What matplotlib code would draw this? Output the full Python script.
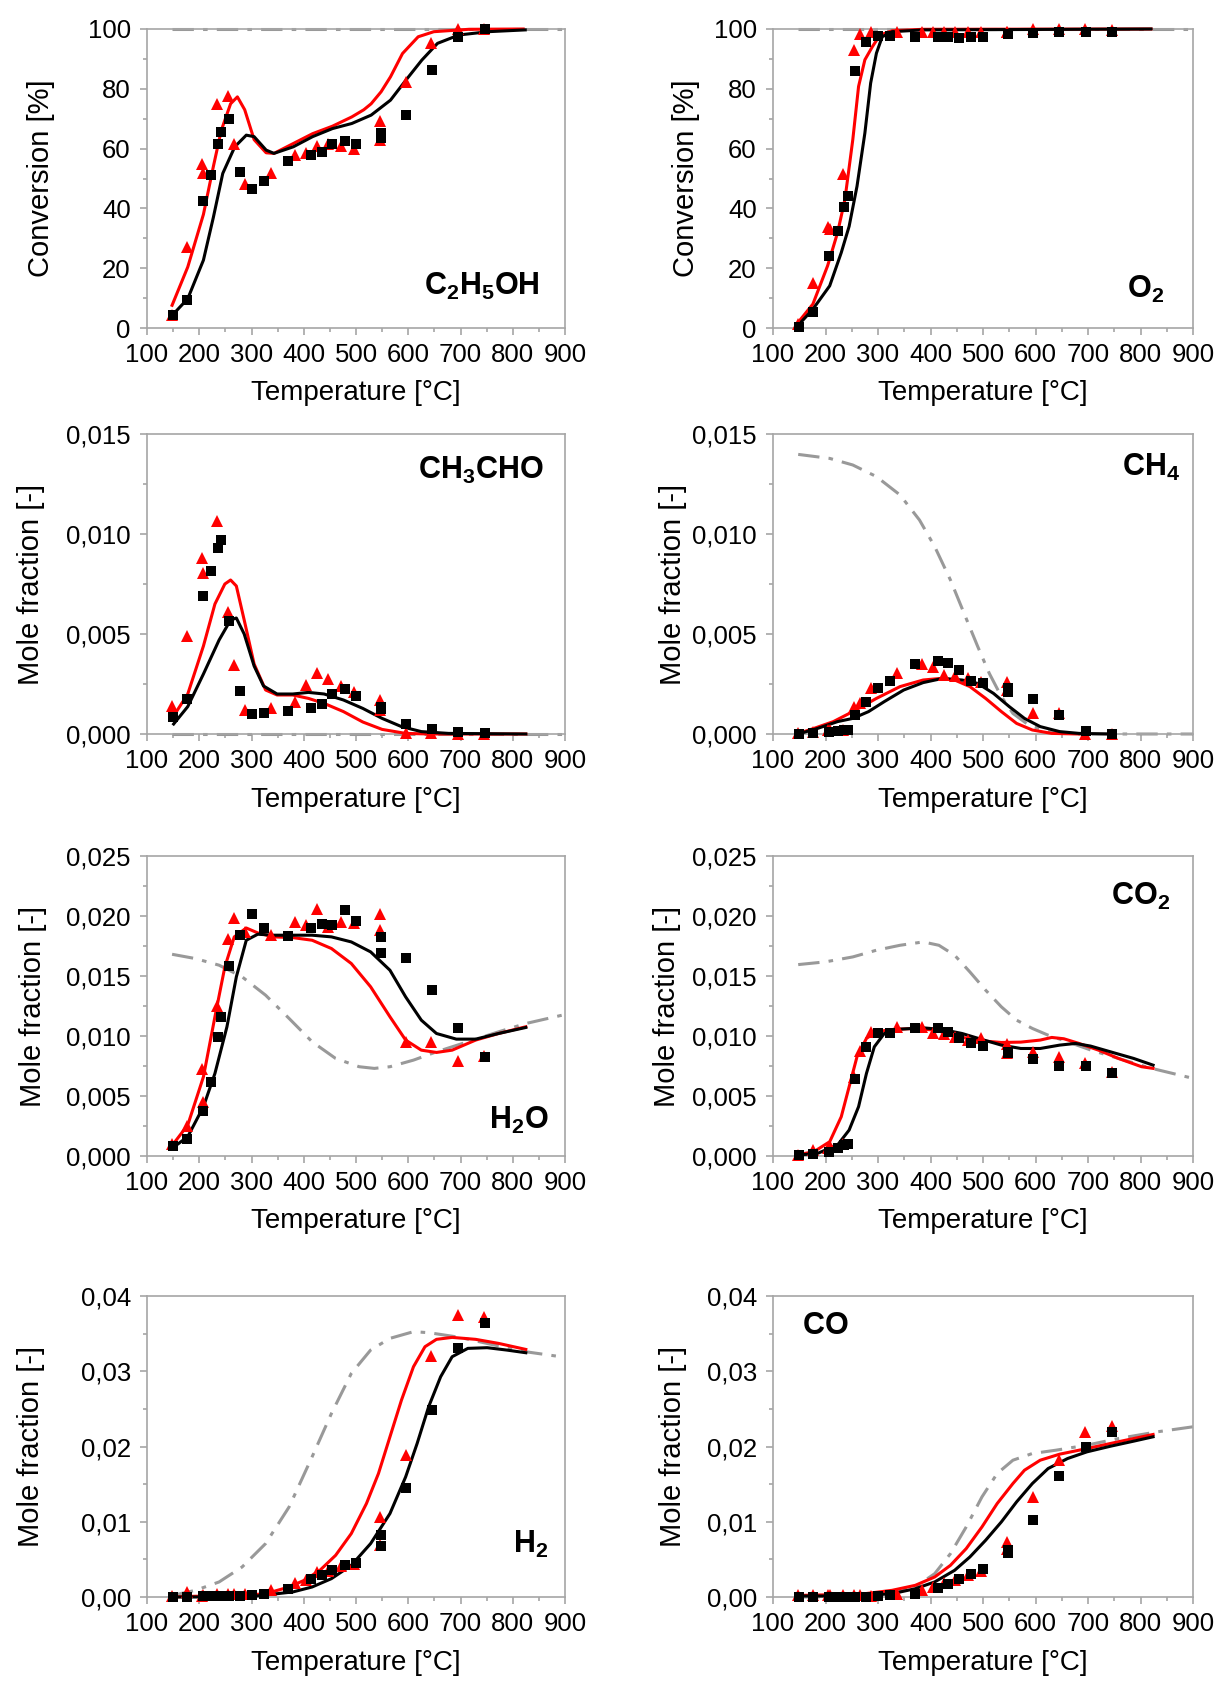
import matplotlib
matplotlib.use('Agg')
import matplotlib.pyplot as plt
from matplotlib.ticker import MultipleLocator, FuncFormatter

plt.rcParams['font.family'] = ['Liberation Sans', 'DejaVu Sans']
plt.rcParams['mathtext.fontset'] = 'custom'
plt.rcParams['mathtext.rm'] = 'Liberation Sans'
plt.rcParams['mathtext.bf'] = 'Liberation Sans:bold'

# Measurement temperatures (squares / triangles)
T_SQ = [150, 176, 207, 223, 236, 242, 257, 278, 300, 323, 370, 414, 434, 454, 478, 500, 547, 547, 596, 645, 696, 746]
T_TRI = [148, 177, 205, 208, 234, 255, 266, 287, 337, 383, 404, 426, 447, 471, 497, 546, 546, 595, 644, 695, 745]

# ---- C2H5OH conversion [%]
etoh_sq = [4.2, 9.3, 42.4, 51.1, 61.7, 65.6, 69.8, 52.2, 46.5, 49.1, 55.8, 57.9, 58.9, 61.4, 62.5, 61.7, 63.7, 65.1, 71.2, 86.3, 97.4, 100]
etoh_tri = [4.2, 27.1, 54.7, 51.7, 74.8, 77.6, 61.7, 48.0, 51.7, 57.8, 58.6, 60.8, 61.5, 60.8, 60.0, 62.8, 69.2, 82.4, 95.4, 100, 100]
etoh_red_t = [148, 178, 208, 227, 242, 260, 273, 287, 305, 328, 343, 380, 417, 455, 492, 515, 529, 548, 566, 589, 619, 649, 716, 820]
etoh_red_y = [7.6, 20.4, 38, 54, 66, 75, 77.3, 73, 63, 58.6, 58.4, 61.7, 65, 67.5, 70.6, 73, 75, 79, 84, 91.8, 97.4, 99.1, 99.9, 100]
etoh_blk_t = [148, 178, 208, 227, 245, 268, 290, 305, 328, 343, 380, 417, 455, 492, 529, 566, 596, 626, 656, 697, 753, 824]
etoh_blk_y = [4.2, 9.8, 22.7, 37, 51.7, 60.6, 64.5, 64, 59.5, 58.4, 60.6, 64, 66.7, 68.4, 71.2, 76.2, 83, 89.6, 95.2, 98, 99.1, 99.7]
etoh_eq_t = [148, 900]
etoh_eq_y = [100, 100]

# ---- O2 conversion [%]
o2_sq = [0.4, 5.2, 24.1, 32.4, 40.4, 44.1, 86.0, 95.8, 97.7, 97.7, 97.2, 97.4, 97.4, 96.9, 97.4, 97.4, 98.2, 98.2, 98.6, 98.9, 98.9, 98.9]
o2_tri = [1.3, 15.0, 33.8, 33.0, 51.6, 93.0, 98.2, 98.9, 99.0, 99.0, 99.0, 99.0, 99.0, 99.0, 99.0, 99.0, 99.0, 100, 100, 100, 99.5]
o2_red_t = [148, 176, 204, 223, 237, 252, 263, 275, 289, 304, 327, 386, 820]
o2_red_y = [1.9, 8, 20.8, 31.9, 43, 63, 80.8, 89.7, 94, 98, 99.4, 99.9, 100]
o2_blk_t = [150, 176, 208, 230, 245, 260, 275, 286, 297, 308, 327, 386, 820]
o2_blk_y = [1.3, 6.3, 14.1, 25.2, 34, 47.4, 65.2, 81.9, 91.9, 97.4, 99.1, 99.7, 100]
o2_eq_t = [148, 900]
o2_eq_y = [100, 100]

# ---- CH3CHO mole fraction
ch3cho_sq = [0.00087, 0.00173, 0.0069, 0.00817, 0.00928, 0.0097, 0.00565, 0.00217, 0.0010, 0.00107, 0.00117, 0.00128,
             0.00148, 0.0020, 0.00223, 0.00192, 0.00127, 0.00137, 0.0005, 0.00023, 0.00012, 0.00007]
ch3cho_tri = [0.0014, 0.0049, 0.00878, 0.00807, 0.01065, 0.00612, 0.00345, 0.0012, 0.00128, 0.00158, 0.00245, 0.00303,
              0.00273, 0.00242, 0.00212, 0.0017, 0.0012, 0.00007, 0.00003, 0.0, 0.0]
ch3cho_red_t = [148, 178, 208, 230, 249, 260, 271, 286, 305, 327, 349, 379, 409, 439, 476, 513, 550, 595, 640, 825]
ch3cho_red_y = [0.00078, 0.002, 0.0044, 0.0065, 0.0075, 0.0077, 0.0074, 0.0057, 0.0035, 0.0022, 0.00195, 0.00195,
                0.00178, 0.00153, 0.00112, 0.0006, 0.00023, 0.00003, 0.0, 0.0]
ch3cho_blk_t = [151, 178, 208, 238, 260, 271, 286, 305, 323, 349, 379, 409, 439, 476, 513, 550, 587, 625, 677, 825]
ch3cho_blk_y = [0.0005, 0.00137, 0.003, 0.0047, 0.0057, 0.0058, 0.005, 0.0034, 0.0024, 0.002, 0.002, 0.00208,
                0.002, 0.0017, 0.00128, 0.00078, 0.00037, 0.00012, 0.00003, 0.0]
ch3cho_eq_t = [148, 900]
ch3cho_eq_y = [0.0, 0.0]

# ---- CH4 mole fraction
ch4_sq = [0.0, 0.00003, 0.00012, 0.00017, 0.0002, 0.0002, 0.00095, 0.00162, 0.00228, 0.00267, 0.0035, 0.00367,
          0.00353, 0.0032, 0.00267, 0.00253, 0.00212, 0.0023, 0.00173, 0.00095, 0.00017, 0.0]
ch4_tri = [0.00005, 0.0001, 0.0002, 0.0002, 0.0002, 0.00133, 0.00157, 0.00228, 0.00307, 0.0035, 0.00337, 0.00295,
           0.0029, 0.00278, 0.00262, 0.00262, 0.0022, 0.00103, 0.00103, 0.0, 0.0]
ch4_red_t = [145, 178, 215, 252, 297, 342, 386, 420, 446, 475, 505, 535, 564, 594, 631, 683]
ch4_red_y = [0.0, 0.00028, 0.00062, 0.00112, 0.00178, 0.00237, 0.0027, 0.00278, 0.0027, 0.00237, 0.00178, 0.00112,
             0.00053, 0.0002, 0.00003, 0.0]
ch4_blk_t = [148, 185, 223, 252, 282, 312, 349, 386, 423, 460, 490, 520, 550, 579, 609, 646, 683, 745]
ch4_blk_y = [0.0, 0.00028, 0.00062, 0.00078, 0.00112, 0.00162, 0.0022, 0.00257, 0.00278, 0.0027, 0.00253, 0.00203,
             0.00137, 0.00078, 0.00037, 0.00012, 0.00003, 0.0]
ch4_eq_t = [148, 208, 252, 297, 342, 379, 408, 438, 464, 490, 512, 535, 557, 587, 624, 683, 900]
ch4_eq_y = [0.01398, 0.01378, 0.01345, 0.01287, 0.01195, 0.0107, 0.00937, 0.0077, 0.00603, 0.00437, 0.00303,
            0.00187, 0.00103, 0.00045, 0.00012, 0.0, 0.0]

# ---- H2O mole fraction
h2o_sq = [0.00083, 0.00139, 0.00377, 0.00619, 0.00993, 0.0116, 0.01582, 0.0184, 0.02014, 0.019, 0.01834, 0.019,
          0.01937, 0.01928, 0.02048, 0.01959, 0.01826, 0.01695, 0.01651, 0.01382, 0.01068, 0.00827]
h2o_tri = [0.001, 0.0025, 0.00721, 0.00452, 0.01251, 0.01806, 0.01987, 0.01867, 0.0184, 0.0195, 0.01923, 0.02062,
           0.01909, 0.0195, 0.01942, 0.0202, 0.01887, 0.00952, 0.00952, 0.00791, 0.00832]
h2o_red_t = [145, 178, 208, 230, 249, 267, 290, 312, 342, 379, 416, 453, 491, 528, 565, 595, 625, 654, 684, 729, 773, 825]
h2o_red_y = [0.0007, 0.00258, 0.0066, 0.0116, 0.01576, 0.01826, 0.019, 0.01859, 0.01826, 0.0182, 0.01798, 0.01729,
             0.01604, 0.0141, 0.0116, 0.00966, 0.00882, 0.00863, 0.00882, 0.00966, 0.01021, 0.01077]
h2o_blk_t = [148, 178, 208, 230, 253, 271, 290, 312, 342, 416, 453, 491, 528, 565, 595, 625, 654, 692, 729, 773, 825]
h2o_blk_y = [0.00064, 0.00161, 0.00411, 0.00688, 0.01077, 0.01493, 0.01798, 0.01848, 0.0184, 0.0184, 0.01826, 0.01784,
             0.01701, 0.01548, 0.01326, 0.01132, 0.01021, 0.00974, 0.00974, 0.01021, 0.01071]
h2o_eq_t = [148, 193, 238, 282, 327, 372, 416, 461, 506, 535, 565, 610, 654, 714, 773, 825, 900]
h2o_eq_y = [0.01681, 0.01645, 0.0159, 0.01493, 0.0134, 0.01146, 0.00952, 0.00813, 0.00744, 0.0073, 0.00744, 0.00799,
            0.00868, 0.00952, 0.01035, 0.01104, 0.01179]

# ---- CO2 mole fraction
co2_sq = [0.00008, 0.00014, 0.00036, 0.00064, 0.00092, 0.001, 0.00641, 0.0091, 0.01021, 0.01027, 0.01068, 0.01063,
          0.0103, 0.0098, 0.00938, 0.00916, 0.00868, 0.00855, 0.00805, 0.00749, 0.00749, 0.00688]
co2_tri = [0.0001, 0.0005, 0.0007, 0.0008, 0.001, 0.00655, 0.00874, 0.0103, 0.01077, 0.01077, 0.01021, 0.01016,
           0.00993, 0.00966, 0.0098, 0.00855, 0.0093, 0.00868, 0.00827, 0.00771, 0.00702]
co2_red_t = [145, 178, 208, 230, 245, 260, 278, 297, 327, 371, 408, 446, 475, 505, 535, 572, 609, 631, 654, 683, 720, 758, 802, 824]
co2_red_y = [0.00008, 0.00036, 0.00119, 0.00327, 0.00577, 0.00827, 0.0098, 0.01035, 0.01054, 0.01063, 0.01049, 0.01007,
             0.00974, 0.00957, 0.00946, 0.00949, 0.00966, 0.00988, 0.00977, 0.00938, 0.00882, 0.00813, 0.00744, 0.0073]
co2_blk_t = [148, 185, 223, 245, 263, 278, 293, 312, 342, 386, 423, 460, 498, 535, 572, 609, 646, 676, 705, 743, 787, 824]
co2_blk_y = [0.00008, 0.00022, 0.00092, 0.00216, 0.00411, 0.00688, 0.0091, 0.01021, 0.01057, 0.01068, 0.01054, 0.01021,
             0.00971, 0.00924, 0.00896, 0.00896, 0.00924, 0.00938, 0.00916, 0.00868, 0.00813, 0.00757]
co2_eq_t = [148, 200, 252, 297, 342, 386, 416, 446, 475, 505, 535, 564, 594, 624, 661, 706, 758, 817, 900]
co2_eq_y = [0.01595, 0.01618, 0.01659, 0.01715, 0.01756, 0.01784, 0.01756, 0.01673, 0.01534, 0.01382, 0.01243,
            0.01132, 0.01063, 0.01007, 0.00952, 0.00882, 0.00813, 0.00735, 0.00647]

# ---- H2 mole fraction
h2_sq = [0.0, 0.0, 0.0001, 0.0001, 0.0001, 0.0001, 0.0001, 0.0001, 0.0002, 0.00044, 0.0011, 0.00244, 0.00297,
         0.00364, 0.00421, 0.00457, 0.00678, 0.00829, 0.0145, 0.02483, 0.03313, 0.03645]
h2_tri = [0.0001, 0.0007, 0.0001, 0.0002, 0.0004, 0.0004, 0.0004, 0.0004, 0.0009, 0.0018, 0.0022, 0.0033, 0.0035,
          0.0041, 0.0044, 0.0069, 0.0106, 0.01885, 0.032, 0.03747, 0.03725]
h2_red_t = [145, 193, 267, 327, 372, 401, 431, 461, 491, 520, 543, 565, 587, 610, 632, 654, 684, 729, 773, 825]
h2_red_y = [0.0, 0.0001, 0.00013, 0.00044, 0.00133, 0.00222, 0.00355, 0.00554, 0.00843, 0.01242, 0.01641, 0.02129,
            0.02616, 0.0306, 0.03326, 0.03424, 0.0345, 0.03424, 0.0337, 0.0329]
h2_blk_t = [148, 230, 305, 379, 416, 453, 491, 528, 565, 595, 617, 639, 662, 684, 714, 751, 788, 825]
h2_blk_y = [0.0, 0.0, 0.0001, 0.00067, 0.00133, 0.00244, 0.00421, 0.0071, 0.01109, 0.01596, 0.0204, 0.02528,
            0.02927, 0.03193, 0.03304, 0.03313, 0.03282, 0.03246]
h2_eq_t = [148, 193, 238, 282, 327, 372, 416, 453, 491, 528, 565, 610, 640, 699, 759, 825, 892]
h2_eq_y = [0.0002, 0.00089, 0.002, 0.00399, 0.0071, 0.01197, 0.01863, 0.02439, 0.02971, 0.03282, 0.03437, 0.03526,
           0.03512, 0.0345, 0.03357, 0.03259, 0.03193]

# ---- CO mole fraction
co_sq = [0.0, 0.0, 0.0, 0.0, 0.0, 0.0, 0.0, 0.00005, 0.0001, 0.0002, 0.00044, 0.0012, 0.00177, 0.00235, 0.003,
         0.00377, 0.00585, 0.0062, 0.0102, 0.01605, 0.01987, 0.02195]
co_tri = [0.0002, 0.0002, 0.0002, 0.0002, 0.0002, 0.0002, 0.0002, 0.0001, 0.0004, 0.0009, 0.0013, 0.0018, 0.0022,
          0.0029, 0.0035, 0.0073, 0.0064, 0.0133, 0.0182, 0.02195, 0.02275]
co_red_t = [145, 208, 275, 327, 371, 408, 438, 468, 498, 527, 557, 579, 609, 646, 683, 728, 772, 824]
co_red_y = [0.0002, 0.0003, 0.00044, 0.00089, 0.00155, 0.00266, 0.00421, 0.00643, 0.00931, 0.01242, 0.01508, 0.01685,
            0.01818, 0.01898, 0.01951, 0.02018, 0.02084, 0.0216]
co_blk_t = [148, 208, 275, 327, 371, 408, 446, 475, 505, 535, 564, 594, 624, 661, 698, 743, 787, 824]
co_blk_y = [0.00013, 0.00013, 0.0002, 0.00044, 0.0011, 0.002, 0.00355, 0.00532, 0.00754, 0.00998, 0.01264, 0.01508,
            0.01707, 0.0184, 0.01929, 0.02004, 0.02071, 0.02129]
co_eq_t = [148, 237, 312, 371, 408, 438, 468, 498, 527, 557, 594, 639, 698, 758, 832, 900]
co_eq_y = [0.0, 0.0, 0.0001, 0.00133, 0.0031, 0.00576, 0.00931, 0.0133, 0.01641, 0.01818, 0.01907, 0.01951, 0.02018,
           0.02106, 0.02195, 0.02262]

panels = [
    # label, ylabel, ymax, ystep, decimals, sq, tri, red, black, eq, label pos (x, y, ha), ylabel x
    (r'$\mathbf{C_2H_5OH}$', 'Conversion [%]', 100, 20, 0, etoh_sq, etoh_tri,
     (etoh_red_t, etoh_red_y), (etoh_blk_t, etoh_blk_y), (etoh_eq_t, etoh_eq_y), (0.94, 0.14, 'right'), -0.22),
    (r'$\mathbf{O_2}$', 'Conversion [%]', 100, 20, 0, o2_sq, o2_tri,
     (o2_red_t, o2_red_y), (o2_blk_t, o2_blk_y), (o2_eq_t, o2_eq_y), (0.93, 0.13, 'right'), -0.175),
    (r'$\mathbf{CH_3CHO}$', 'Mole fraction [-]', 0.015, 0.005, 3, ch3cho_sq, ch3cho_tri,
     (ch3cho_red_t, ch3cho_red_y), (ch3cho_blk_t, ch3cho_blk_y), (ch3cho_eq_t, ch3cho_eq_y), (0.95, 0.88, 'right'), -0.245),
    (r'$\mathbf{CH_4}$', 'Mole fraction [-]', 0.015, 0.005, 3, ch4_sq, ch4_tri,
     (ch4_red_t, ch4_red_y), (ch4_blk_t, ch4_blk_y), (ch4_eq_t, ch4_eq_y), (0.97, 0.89, 'right'), -0.205),
    (r'$\mathbf{H_2O}$', 'Mole fraction [-]', 0.025, 0.005, 3, h2o_sq, h2o_tri,
     (h2o_red_t, h2o_red_y), (h2o_blk_t, h2o_blk_y), (h2o_eq_t, h2o_eq_y), (0.96, 0.12, 'right'), -0.24),
    (r'$\mathbf{CO_2}$', 'Mole fraction [-]', 0.025, 0.005, 3, co2_sq, co2_tri,
     (co2_red_t, co2_red_y), (co2_blk_t, co2_blk_y), (co2_eq_t, co2_eq_y), (0.945, 0.865, 'right'), -0.22),
    (r'$\mathbf{H_2}$', 'Mole fraction [-]', 0.04, 0.01, 2, h2_sq, h2_tri,
     (h2_red_t, h2_red_y), (h2_blk_t, h2_blk_y), (h2_eq_t, h2_eq_y), (0.96, 0.175, 'right'), -0.245),
    (r'$\mathbf{CO}$', 'Mole fraction [-]', 0.04, 0.01, 2, co_sq, co_tri,
     (co_red_t, co_red_y), (co_blk_t, co_blk_y), (co_eq_t, co_eq_y), (0.07, 0.9, 'left'), -0.205),
]

W, H = 1223, 1682
fig = plt.figure(figsize=(W / 100, H / 100), dpi=100)

col_px = [(147, 418), (773, 420)]
row_px = [(29, 328), (434, 734), (856, 1156), (1296, 1597)]
frame_gray = '#a6a6a6'
eq_gray = '#999999'

for i, p in enumerate(panels):
    label, ylab, ymax, ystep, dec, sq, tri, red, blk, eq, lpos, ylx = p
    c0, cw = col_px[i % 2]
    r0, r1 = row_px[i // 2]
    ax = fig.add_axes([c0 / W, 1 - r1 / H, cw / W, (r1 - r0) / H])

    ax.plot(eq[0], eq[1], color=eq_gray, lw=2.2, dashes=(7, 3, 1.5, 3), clip_on=False, zorder=2)
    ax.plot(red[0], red[1], color='red', lw=2.2, clip_on=False, zorder=3)
    ax.plot(blk[0], blk[1], color='black', lw=2.2, clip_on=False, zorder=3)
    ax.plot(T_TRI, tri, '^', color='red', ms=8, mew=0, clip_on=False, zorder=4)
    ax.plot(T_SQ, sq, 's', color='black', ms=6.8, mew=0, clip_on=False, zorder=5)

    ax.set_xlim(100, 900)
    ax.set_ylim(0, ymax)
    ax.xaxis.set_major_locator(MultipleLocator(100))
    ax.xaxis.set_minor_locator(MultipleLocator(50))
    ax.yaxis.set_major_locator(MultipleLocator(ystep))
    ax.yaxis.set_minor_locator(MultipleLocator(ystep / 2))
    ax.yaxis.set_major_formatter(FuncFormatter(lambda v, pos, d=dec: f'{v:.{d}f}'.replace('.', ',')))

    for s in ax.spines.values():
        s.set_color(frame_gray)
        s.set_linewidth(1.2)
    ax.tick_params(which='both', direction='out', color=frame_gray, width=1.2, labelsize=18.5)
    ax.tick_params(which='major', length=4.7)
    ax.tick_params(which='minor', length=3)
    ax.tick_params(axis='x', which='major', pad=6)
    ax.tick_params(axis='y', which='major', pad=7)

    ax.set_xlabel('Temperature [°C]', fontsize=20)
    ax.xaxis.set_label_coords(0.5, -0.175)
    ax.set_ylabel(ylab, fontsize=21)
    ax.yaxis.set_label_coords(ylx, 0.5)

    ax.text(lpos[0], lpos[1], label, transform=ax.transAxes, ha=lpos[2], va='center', fontsize=22)

fig.savefig('out.png', dpi=100)
